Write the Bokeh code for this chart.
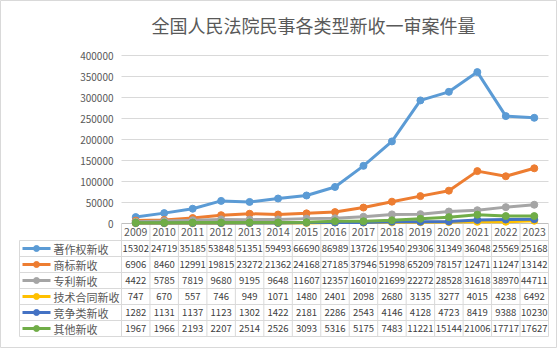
from bokeh.plotting import figure
from bokeh.models import ColumnDataSource, Range1d
from bokeh.core.properties import value
from bokeh.embed import file_html
from bokeh.resources import INLINE

# ---------------- data ----------------
years = [str(y) for y in range(2009, 2024)]
series_names = ["著作权新收", "商标新收", "专利新收", "技术合同新收", "竞争类新收", "其他新收"]
copyright_new = [15302, 24719, 35185, 53848, 51351, 59493, 66690, 86989, 137267, 195408, 293066, 313497, 360489, 255693, 251683]
trademark_new = [6906, 8460, 12991, 19815, 23272, 21362, 24168, 27185, 37946, 51998, 65209, 78157, 124716, 112473, 131422]
patent_new = [4422, 5785, 7819, 9680, 9195, 9648, 11607, 12357, 16010, 21699, 22272, 28528, 31618, 38970, 44711]
tech_contract_new = [747, 670, 557, 746, 949, 1071, 1480, 2401, 2098, 2680, 3135, 3277, 4015, 4238, 6492]
competition_new = [1282, 1131, 1137, 1123, 1302, 1422, 2181, 2286, 2543, 4146, 4128, 4723, 8419, 9388, 10230]
other_new = [1967, 1966, 2193, 2207, 2514, 2526, 3093, 5316, 5175, 7483, 11221, 15144, 21006, 17717, 17627]
y_ticks = [0, 50000, 100000, 150000, 200000, 250000, 300000, 350000, 400000]
title_text = "全国人民法院民事各类型新收一审案件量"

all_series = [copyright_new, trademark_new, patent_new, tech_contract_new, competition_new, other_new]
colors = ["#5B9BD5", "#ED7D31", "#A5A5A5", "#FFC000", "#4472C4", "#70AD47"]

# ---------------- layout (pixel geometry) ----------------
W, H = 557, 348
L, R = 121, 548          # plot / table columns left & right
Y0, YTOP = 223, 55       # pixel of 0 and of 400000
n = len(years)
CW = (R - L) / n
YMAX = y_ticks[-1]
UPP = YMAX / (Y0 - YTOP)  # data units per pixel


def xd(px):
    return (px - L) / CW - 0.5


def yd(py):
    return (Y0 - py) * UPP


p = figure(width=W, height=H, output_backend="svg", toolbar_location=None,
           x_range=Range1d(xd(0), xd(W)), y_range=Range1d(yd(H), yd(0)),
           x_axis_location=None, y_axis_location=None, min_border=0)
p.grid.visible = False
p.outline_line_color = "#D9D9D9"
p.outline_line_width = 1
p.background_fill_color = "white"
p.border_fill_color = "white"

GRID = "#D9D9D9"
TXT = "#595959"
CJK = value("Noto Sans CJK SC")

# title
p.text(x=[xd(313)], y=[yd(24)], text=[title_text], text_align="center",
       text_baseline="middle", text_font=CJK, text_font_size="18px", text_color=TXT)

# gridlines + y tick labels
gt = y_ticks[1:]
p.segment(x0=[xd(L)] * len(gt), x1=[xd(R)] * len(gt), y0=gt, y1=gt,
          line_color=GRID, line_width=1)
p.text(x=[xd(113)] * len(y_ticks), y=y_ticks, text=[str(t) for t in y_ticks],
       text_align="right", text_baseline="middle", text_font=CJK,
       text_font_size="10px", text_color=TXT)

# ---------------- table ----------------
row_edges = [223, 240, 256, 272, 288, 304, 320, 336]
TL = 19
# horizontal lines
p.segment(x0=[xd(L)], x1=[xd(R)], y0=[yd(row_edges[0])], y1=[yd(row_edges[0])],
          line_color="#BFBFBF", line_width=1)
he = row_edges[1:]
p.segment(x0=[xd(TL)] * len(he), x1=[xd(R)] * len(he), y0=[yd(e) for e in he],
          y1=[yd(e) for e in he], line_color=GRID, line_width=1)
# vertical lines
vx = [i - 0.5 for i in range(n + 1)]
p.segment(x0=vx, x1=vx, y0=[yd(row_edges[0])] * len(vx), y1=[yd(row_edges[-1])] * len(vx),
          line_color=GRID, line_width=1)
p.segment(x0=[xd(TL)], x1=[xd(TL)], y0=[yd(row_edges[1])], y1=[yd(row_edges[-1])],
          line_color=GRID, line_width=1)

# header years
hc = (row_edges[0] + row_edges[1]) / 2
p.text(x=list(range(n)), y=[yd(hc)] * n, text=years, text_align="center",
       text_baseline="middle", text_font=CJK, text_font_size="10.5px", text_color=TXT)

for k, (name, vals, col) in enumerate(zip(series_names, all_series, colors)):
    rc = yd((row_edges[k + 1] + row_edges[k + 2]) / 2)
    # legend key
    p.line(x=[xd(22), xd(50)], y=[rc, rc], line_color=col, line_width=3)
    p.scatter(x=[xd(36)], y=[rc], size=6, fill_color=col, line_color=col)
    p.text(x=[xd(53)], y=[rc], text=[name], text_align="left", text_baseline="middle",
           text_font=CJK, text_font_size="11px", text_color=TXT)
    # values (Excel-style clipped to cell width)
    p.text(x=list(range(n)), y=[rc] * n, text=[str(v)[:5] for v in vals],
           text_align="center", text_baseline="middle", text_font=CJK,
           text_font_size="9.5px", text_color="#404040")

# ---------------- lines ----------------
for name, vals, col in zip(series_names, all_series, colors):
    src = ColumnDataSource(dict(x=list(range(n)), y=vals))
    p.line("x", "y", source=src, line_color=col, line_width=3)
    p.scatter("x", "y", source=src, size=7, fill_color=col, line_color=col)

open("out.html", "w").write(file_html(p, INLINE))
